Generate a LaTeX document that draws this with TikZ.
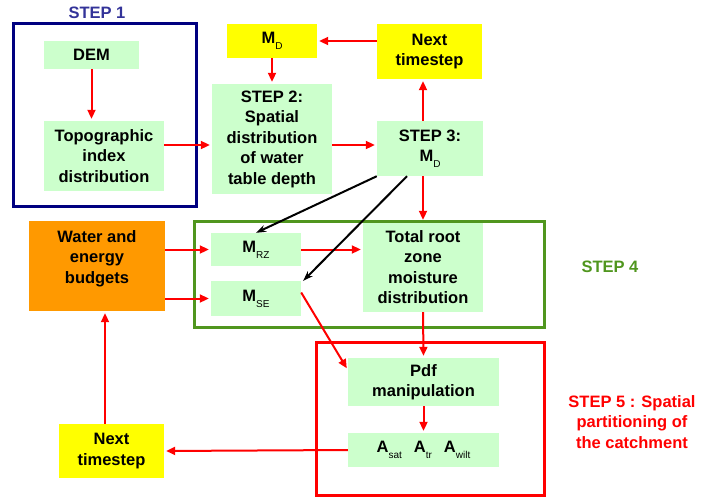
\documentclass[tikz,border=0pt]{standalone}
\usepackage{fontspec}
\setmainfont{Liberation Sans}
\usepackage{tikz}
\usetikzlibrary{
  arrows.meta,
  positioning
}

\definecolor{boxgreen}{RGB}{204,255,204}
\definecolor{boxyellow}{RGB}{255,255,0}
\definecolor{boxorange}{RGB}{255,153,0}
\definecolor{framenavy}{RGB}{0,0,128}
\definecolor{labelblue}{RGB}{51,51,153}
\definecolor{stepgreen}{RGB}{80,150,30}

\newcommand{\lowsub}[1]{\raisebox{-6pt}{\fontsize{10}{10}\selectfont\mdseries #1}}

\begin{document}
\begin{tikzpicture}[
    x=1pt, y=-1pt,
    font=\fontsize{16.5}{20.5}\selectfont\bfseries,
    box/.style={fill=boxgreen, inner sep=0pt, align=center},
    ybox/.style={fill=boxyellow, inner sep=0pt, align=center},
    flow/.style={-{Triangle[length=9pt,width=8pt]}, red, line width=2pt, shorten >=2pt},
    link/.style={-{Stealth[length=10pt,width=7pt]}, black, line width=2pt},
    frame/.style={line width=3pt}
    ]

    \useasboundingbox (0,0) rectangle (701,498);

    % boxes
    \node[box, minimum width=95pt, minimum height=28pt] (dem) at (91.5,55) {DEM};
    \node[box, minimum width=120pt, minimum height=70pt] (topo) at (104,156)
    {Topographic\\index\\distribution};
    \node[ybox, minimum width=90pt, minimum height=34pt] (mdtop) at (272,41)
    {M\lowsub{D}};
    \node[box, minimum width=120pt, minimum height=110pt] (step2) at (272,139)
    {STEP 2:\\Spatial\\distribution\\of water\\table depth};
    \node[ybox, minimum width=105pt, minimum height=55pt] (nexttop) at (429.5,51.5)
    {Next\\timestep};
    \node[box, minimum width=106pt, minimum height=55pt] (step3) at (430,148.5)
    {STEP 3:\\M\lowsub{D}};
    \node[fill=boxorange, inner sep=0pt, align=center, minimum width=136pt,
    minimum height=90pt] (water) at (97,266)
    {Water and\\energy\\budgets\\[-2.5pt]};
    \node[box, minimum width=90pt, minimum height=33pt] (mrz) at (256,249.5)
    {M\lowsub{RZ}};
    \node[box, minimum width=90pt, minimum height=35pt] (mse) at (256,298.5)
    {M\lowsub{SE}};
    \node[box, minimum width=120pt, minimum height=90pt] (total) at (423,267)
    {Total root\\zone\\moisture\\distribution};
    \node[box, minimum width=151pt, minimum height=48pt] (pdf) at (423.5,382)
    {Pdf\\manipulation};
    \node[box, minimum width=151pt, minimum height=34pt] (areas) at (423.5,450)
    {A\lowsub{sat}\hspace{12pt}A\lowsub{tr}\hspace{12pt}A\lowsub{wilt}};
    \node[ybox, minimum width=105pt, minimum height=54pt] (nextbot) at (111.5,451)
    {Next\\timestep};

    % step frames and labels
    \draw[frame, framenavy] (13,23) rectangle (196,206);
    \draw[frame, stepgreen] (194,221) rectangle (544,327);
    \draw[frame, red] (316,342) rectangle (544,495);

    \node[text=labelblue] (lstep1) at (97,13) {STEP 1};
    \node[text=stepgreen] (lstep4) at (610,267) {STEP 4};
    \node[text=red, align=center] (lstep5) at (632,422)
    {STEP 5 : Spatial\\partitioning of\\the catchment};

    % red flow
    \draw[flow] (dem.south) -- (topo.north -| dem.south);
    \draw[flow] ([yshift=11pt]topo.east) -- ([yshift=-6pt]step2.west);
    \draw[flow] (mdtop.south) -- (step2.north);
    \draw[flow] (nexttop.west |- mdtop.east) -- (mdtop.east);
    \draw[flow] ([yshift=-6pt]step2.east) -- ([yshift=3.5pt]step3.west);
    \draw[flow] (step3.north -| total.north) -- (nexttop.south -| total.north);
    \draw[flow] (step3.south -| total.north) -- (total.north);
    \draw[flow] (water.east |- mrz.west) -- (mrz.west);
    \draw[flow] (water.east |- mse.west) -- (mse.west);
    \draw[flow] (mrz.east) -- (total.west |- mrz.east);
    \draw[flow] ([yshift=6pt]mse.east) -- ([yshift=12pt]pdf.west);
    \draw[flow] (total.south) -- (pdf.north);
    \draw[flow] (pdf.south) -- (areas.north);
    \draw[flow] (areas.west) -- (nextbot.east);
    \draw[flow] ([xshift=-6.5pt]nextbot.north) -- ([xshift=8pt]water.south);

    % black links
    \draw[link] (step3.south west) -- (mrz.north);
    \draw[link] ([xshift=-23pt]step3.south) -- ([xshift=2pt]mse.north east);

\end{tikzpicture}
\end{document}
